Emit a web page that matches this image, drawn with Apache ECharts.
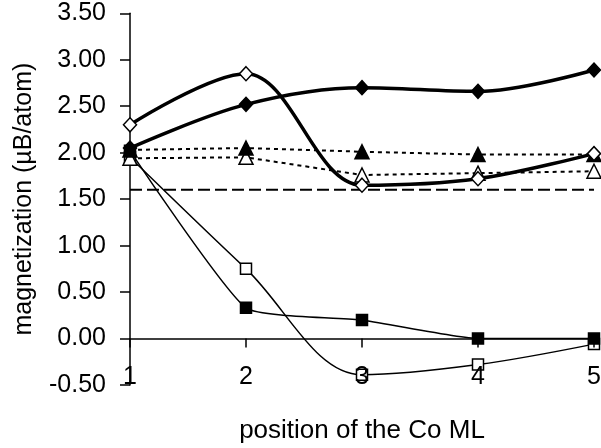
<!DOCTYPE html>
<html>
<head>
<meta charset="utf-8">
<script src="https://cdn.jsdelivr.net/npm/echarts@6/dist/echarts.min.js"></script>
<style>
html,body{margin:0;padding:0;background:#fff;}
#chart{width:601px;height:448px;}
</style>
</head>
<body>
<div id="chart"></div>
<script>
var categories = ['1', '2', '3', '4', '5'];
var filledDiamond = [2.05, 2.52, 2.70, 2.66, 2.89];
var openDiamond = [2.30, 2.85, 1.65, 1.72, 1.99];
var filledTriangle = [2.03, 2.05, 2.01, 1.98, 1.98];
var openTriangle = [1.94, 1.95, 1.76, 1.78, 1.80];
var dashedRef = [1.60, 1.60, 1.60, 1.60, 1.60];
var filledSquare = [2.02, 0.33, 0.20, 0.00, 0.00];
var openSquare = [1.95, 0.75, -0.39, -0.28, -0.06];
var yTicks = { min: -0.5, max: 3.5, interval: 0.5 };

var FONT = 'Liberation Sans, Arial, sans-serif';
var chart = echarts.init(document.getElementById('chart'), null, { renderer: 'canvas' });

function mk(name, data, symbol, size, filled, lineW, lineType, smooth, z) {
  return {
    name: name, type: 'line', data: data, z: z,
    symbol: symbol, symbolSize: size, showSymbol: symbol !== 'none',
    smooth: smooth,
    lineStyle: { color: '#000', width: lineW, type: lineType },
    itemStyle: { color: filled ? '#000' : '#fff', borderColor: '#000', borderWidth: 1.5 },
    emphasis: { disabled: true },
    animation: false
  };
}

chart.setOption({
  animation: false,
  backgroundColor: '#fff',
  grid: { left: 130, right: 7, top: 13.3, bottom: 63, containLabel: false, outerBoundsMode: 'none' },
  xAxis: {
    type: 'category', data: categories, boundaryGap: false, z: 5,
    axisLine: { onZero: true, lineStyle: { color: '#000', width: 1.5 } },
    axisTick: { show: true, inside: false, length: 9, lineStyle: { color: '#000', width: 1.5 } },
    axisLabel: { color: '#000', fontSize: 25, fontFamily: FONT, margin: -20 },
    splitLine: { show: false },
    name: 'position of the Co ML', nameLocation: 'middle', nameGap: 33,
    nameTextStyle: { color: '#000', fontSize: 26, fontFamily: FONT }
  },
  yAxis: {
    type: 'value', min: yTicks.min, max: yTicks.max, interval: yTicks.interval,
    axisLine: { show: true, lineStyle: { color: '#000', width: 1.5 } },
    axisTick: { show: true, inside: false, length: 10, lineStyle: { color: '#000', width: 1.5 } },
    axisLabel: { color: '#000', fontSize: 25, fontFamily: FONT, margin: 24,
      formatter: function (v) { return v.toFixed(2); } },
    splitLine: { show: false },
    name: 'magnetization (µB/atom)', nameLocation: 'middle', nameRotate: 90, nameGap: 93,
    nameTextStyle: { color: '#000', fontSize: 25, fontFamily: FONT }
  },
  series: [
    mk('ref', dashedRef, 'none', 0, true, 2, [12, 5], false, 2),
    mk('openTri', openTriangle, 'triangle', 14, false, 2, [4, 4], false, 2),
    mk('fillTri', filledTriangle, 'triangle', 14, true, 2, [4, 4], false, 2),
    mk('fillSq', filledSquare, 'rect', 11, true, 1.5, 'solid', 0.15, 6),
    mk('openSq', openSquare, 'rect', 11, false, 1.5, 'solid', 0.35, 1),
    mk('openDia', openDiamond, 'diamond', [13, 14], false, 3.5, 'solid', 0.35, 2),
    mk('fillDia', filledDiamond, 'diamond', [13, 14], true, 3.5, 'solid', 0.35, 2)
  ]
});
</script>
</body>
</html>
